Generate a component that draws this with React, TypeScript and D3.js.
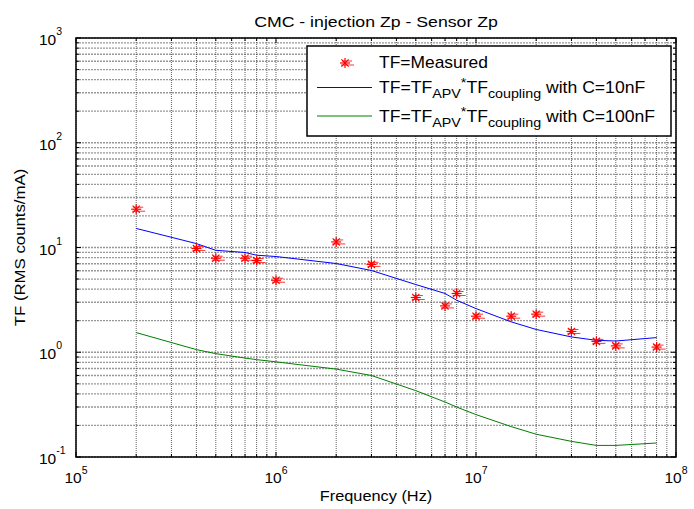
import React from 'react';
import * as d3 from 'd3';

// measured frequencies (Hz)
const freqs = [2e5, 4e5, 5e5, 7e5, 8e5, 1e6, 2e6, 3e6, 5e6, 7e6, 8e6, 1e7, 1.5e7, 2e7, 3e7, 4e7, 5e7, 8e7];
// TF measured (RMS counts/mA)
const measured = [23.2, 9.8, 7.9, 7.9, 7.5, 4.87, 11.3, 6.9, 3.33, 2.77, 3.64, 2.21, 2.21, 2.31, 1.58, 1.27, 1.15, 1.12];
// model C=10nF
const tf10nF = [15.2, 10.9, 9.4, 8.96, 8.44, 8.2, 7.03, 6.03, 4.43, 3.64, 3.14, 2.61, 1.95, 1.65, 1.4, 1.3, 1.28, 1.38];
// model C=100nF
const tf100nF = [1.54, 1.06, 0.97, 0.88, 0.85, 0.81, 0.69, 0.6, 0.43, 0.335, 0.3, 0.254, 0.195, 0.165, 0.141, 0.129, 0.129, 0.136];

const xDecades = [5, 6, 7, 8];
const yDecades = [-1, 0, 1, 2, 3];

const W = 694;
const H = 509;
const M = { left: 76, right: 676, top: 38, bottom: 457 };
const FONT = "'Liberation Sans', Arial, sans-serif";

export default function App() {
  const x = d3.scaleLog().domain([1e5, 1e8]).range([M.left, M.right]);
  const y = d3.scaleLog().domain([1e-1, 1e3]).range([M.bottom, M.top]);

  // minor positions 2..9 within each decade
  const xMinor: number[] = [];
  xDecades.slice(0, -1).forEach(e => d3.range(2, 10).forEach(k => xMinor.push(k * Math.pow(10, e))));
  const yMinor: number[] = [];
  yDecades.slice(0, -1).forEach(e => d3.range(2, 10).forEach(k => yMinor.push(k * Math.pow(10, e))));
  const xMajor = xDecades.map(e => Math.pow(10, e));
  const yMajor = yDecades.map(e => Math.pow(10, e));

  const line = (vals: number[]) =>
    d3.line<number>().x((_, i) => x(freqs[i])).y(d => y(d))(vals) || '';

  const gridV = { stroke: '#222', strokeWidth: 1, strokeDasharray: '1,1', opacity: 0.7 };
  const gridH = { stroke: '#444', strokeWidth: 1.3, strokeDasharray: '2,1', opacity: 0.55 };

  const star = (cx: number, cy: number, key: number) => {
    const r = 5;
    const d = r * 0.72;
    return (
      <g key={key} stroke="#ff0000" strokeWidth={1.2} fill="none">
        <line x1={cx - r} y1={cy} x2={cx + r} y2={cy} />
        <line x1={cx} y1={cy - r} x2={cx} y2={cy + r} />
        <line x1={cx - d} y1={cy - d} x2={cx + d} y2={cy + d} />
        <line x1={cx - d} y1={cy + d} x2={cx + d} y2={cy - d} />
        <line x1={cx - 3} y1={cy - 2} x2={cx + 7} y2={cy - 2} strokeWidth={0.8} />
        <line x1={cx - 4} y1={cy + 2} x2={cx + 9} y2={cy + 2} strokeWidth={0.8} />
      </g>
    );
  };

  const lx = 307, ly = 46, lw = 364, lh = 90;

  return (
    <svg width={W} height={H} style={{ position: 'absolute', left: 0, top: 0, background: '#fff' }} fontFamily={FONT}>
      <rect x={0} y={0} width={W} height={H} fill="#fff" />
      {/* grid */}
      {xMinor.concat(xMajor).map((v, i) => (
        <line key={'gv' + i} x1={x(v)} x2={x(v)} y1={M.top} y2={M.bottom} {...gridV} />
      ))}
      {yMinor.concat(yMajor).map((v, i) => (
        <line key={'gh' + i} x1={M.left} x2={M.right} y1={y(v)} y2={y(v)} {...gridH} />
      ))}
      {/* ticks */}
      <g stroke="#000" strokeWidth={1}>
        {xMinor.map((v, i) => (
          <g key={'xt' + i}>
            <line x1={x(v)} x2={x(v)} y1={M.bottom} y2={M.bottom - 3} />
            <line x1={x(v)} x2={x(v)} y1={M.top} y2={M.top + 3} />
          </g>
        ))}
        {xMajor.map((v, i) => (
          <g key={'xT' + i}>
            <line x1={x(v)} x2={x(v)} y1={M.bottom} y2={M.bottom - 5} />
            <line x1={x(v)} x2={x(v)} y1={M.top} y2={M.top + 5} />
          </g>
        ))}
        {yMinor.map((v, i) => (
          <g key={'yt' + i}>
            <line x1={M.left} x2={M.left + 3} y1={y(v)} y2={y(v)} />
            <line x1={M.right} x2={M.right - 3} y1={y(v)} y2={y(v)} />
          </g>
        ))}
        {yMajor.map((v, i) => (
          <g key={'yT' + i}>
            <line x1={M.left} x2={M.left + 5} y1={y(v)} y2={y(v)} />
            <line x1={M.right} x2={M.right - 5} y1={y(v)} y2={y(v)} />
          </g>
        ))}
      </g>
      {/* series */}
      <path d={line(tf10nF)} fill="none" stroke="#0000ff" strokeWidth={1} />
      <path d={line(tf100nF)} fill="none" stroke="#008000" strokeWidth={1} />
      {measured.map((v, i) => star(x(freqs[i]), y(v), i))}
      {/* axes box */}
      <rect x={M.left} y={M.top} width={M.right - M.left} height={M.bottom - M.top} fill="none" stroke="#000" strokeWidth={1.5} />
      {/* tick labels */}
      {xDecades.map(e => (
        <text key={'xl' + e} x={x(Math.pow(10, e))} y={483} textAnchor="middle" fontSize={15.5}>
          <tspan>10</tspan>
          <tspan dy={-9} fontSize={10.5}>{e}</tspan>
        </text>
      ))}
      {yDecades.map(e => (
        <text key={'yl' + e} x={39} y={y(Math.pow(10, e)) + 7} fontSize={15.5}>
          <tspan>10</tspan>
          <tspan dy={-10} fontSize={10.5}>{e < 0 ? '-' + Math.abs(e) : e}</tspan>
        </text>
      ))}
      {/* title & axis labels */}
      <text transform={`translate(${(M.left + M.right) / 2},27) scale(1.18,1)`} textAnchor="middle" fontSize={15}>
        CMC - injection Zp - Sensor Zp
      </text>
      <text transform={`translate(${(M.left + M.right) / 2},501) scale(1.09,1)`} textAnchor="middle" fontSize={15}>
        Frequency (Hz)
      </text>
      <text transform={`translate(25,${(M.top + M.bottom) / 2}) rotate(-90) scale(1.12,1)`} textAnchor="middle" fontSize={15}>
        TF (RMS counts/mA)
      </text>
      {/* legend */}
      <rect x={lx} y={ly} width={lw} height={lh} fill="#fff" stroke="#000" strokeWidth={1.5} />
      {star(345, 63, 99)}
      <line x1={317} x2={372} y1={87.5} y2={87.5} stroke="#0000ff" strokeWidth={1} />
      <line x1={317} x2={372} y1={116} y2={116} stroke="#008000" strokeWidth={1} />
      <text transform="translate(379,68) scale(1.09,1)" fontSize={16}>TF=Measured</text>
      {[{ yy: 93, c: '10nF' }, { yy: 122, c: '100nF' }].map(r => (
        <text key={r.c} transform={`translate(379,${r.yy}) scale(1.1,1)`} fontSize={16}>
          <tspan>TF=TF</tspan>
          <tspan dy={5} fontSize={13}>APV</tspan>
          <tspan dy={-11} fontSize={13}>*</tspan>
          <tspan dy={6}>TF</tspan>
          <tspan dy={5} fontSize={13}>coupling</tspan>
          <tspan dy={-5}> with C={r.c}</tspan>
        </text>
      ))}
    </svg>
  );
}
